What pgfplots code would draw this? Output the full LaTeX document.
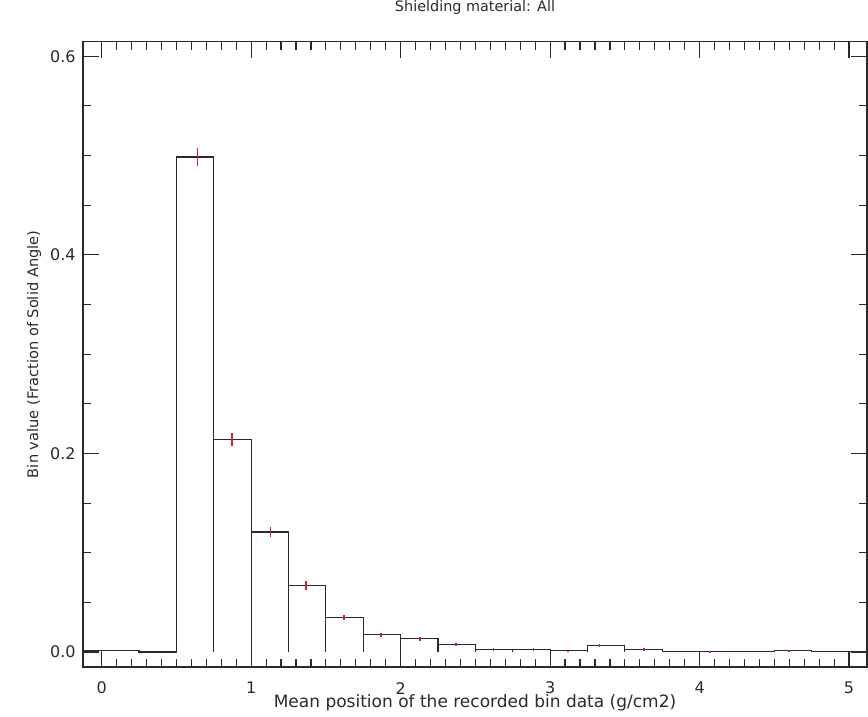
\documentclass[border=0pt]{standalone}
\usepackage{fontspec}
\setmainfont{DejaVu Sans}
\usepackage{pgfplots}
\pgfplotsset{compat=1.18}
\definecolor{ln}{HTML}{2A2A2A}
\definecolor{er}{HTML}{D81E2C}
\begin{document}
\begin{tikzpicture}
\path[use as bounding box] (-41.5pt,-24.5pt) rectangle (392.5pt,333.55pt);
\begin{axis}[
  at={(0,0)}, anchor=south west,
  scale only axis, width=392pt, height=312.7pt,
  xmin=-0.125, xmax=5.12, ymin=-0.0151, ymax=0.6146,
  axis line style={draw=ln, line width=0.6pt},
  xtick={0,1,2,3,4,5}, minor x tick num=9,
  ytick={0,0.2,0.4,0.6}, minor y tick num=3,
  xticklabels={0,1,2,3,4,5},
  yticklabels={0.0,0.2,0.4,0.6},
  tick align=inside, major tick length=8pt, minor tick length=4pt,
  every tick/.style={ln, line width=0.6pt},
  tick label style={font=\fontsize{8}{9}\selectfont, text=ln},
  xticklabel style={anchor=center, yshift=-10.5pt},
  yticklabel style={anchor=east, inner sep=0pt, xshift=-3.5pt},
  title={Shielding material: All},
  title style={at={(axis description cs:0.5,1.0347)}, anchor=center, font=\fontsize{7.2}{9}\selectfont, text=ln},
  xlabel={Mean position of the recorded bin data (g/cm2)},
  xlabel style={at={(axis description cs:0.5,-0.0576)}, anchor=center, font=\fontsize{8.5}{10}\selectfont, text=ln},
  ylabel={Bin value (Fraction of Solid Angle)},
  ylabel style={at={(axis description cs:-0.0625,0.5)}, anchor=center, font=\fontsize{7.3}{9}\selectfont, text=ln},
]
\addplot[const plot, ln, line width=0.6pt] coordinates {
 (-0.125,0.0017) (0.25,0) (0.5,0.4985) (0.75,0.214) (1.0,0.121) (1.25,0.067)
 (1.5,0.0345) (1.75,0.0175) (2.0,0.0134) (2.25,0.0077) (2.5,0.0027) (2.75,0.0026)
 (3.0,0.0013) (3.25,0.0068) (3.5,0.0027) (3.75,0.0003) (4.0,0.0003) (4.25,0.0003)
 (4.5,0.0014) (4.75,0.0003) (5.0,0.0002) (5.12,0.0002)};
\addplot[ycomb, ln, line width=0.6pt, mark=none] coordinates {
 (0.5,0.4985) (0.75,0.4985) (1.0,0.214) (1.25,0.121) (1.5,0.067) (1.75,0.0345)
 (2.0,0.0175) (2.25,0.0134) (2.5,0.0077) (2.75,0.0027) (3.0,0.0026) (3.25,0.0068)
 (3.5,0.0068) (3.75,0.0027) (4.5,0.0014) (4.75,0.0014)};
\addplot[color=er, draw=none, mark=none,
  error bars/.cd, y dir=both, y explicit, error mark=none,
  error bar style={solid, draw=er, line width=0.8pt}] coordinates {
 (0.005,0.0017) +- (0,0.0009)
 (0.64,0.4985) +- (0,0.009)
 (0.87,0.214) +- (0,0.0068)
 (1.13,0.121) +- (0,0.0052)
 (1.367,0.067) +- (0,0.0045)
 (1.62,0.0345) +- (0,0.0026)
 (1.867,0.0175) +- (0,0.0022)
 (2.13,0.0134) +- (0,0.002)
 (2.37,0.0077) +- (0,0.0017)
 (2.62,0.0027) +- (0,0.0011)
 (2.89,0.0026) +- (0,0.0011)
 (3.12,0.0013) +- (0,0.0009)
 (3.33,0.0068) +- (0,0.0014)
 (3.63,0.0027) +- (0,0.0011)
 (4.07,0.0003) +- (0,0.0006)
 (4.6,0.0014) +- (0,0.0008)};
\end{axis}
\end{tikzpicture}
\end{document}
